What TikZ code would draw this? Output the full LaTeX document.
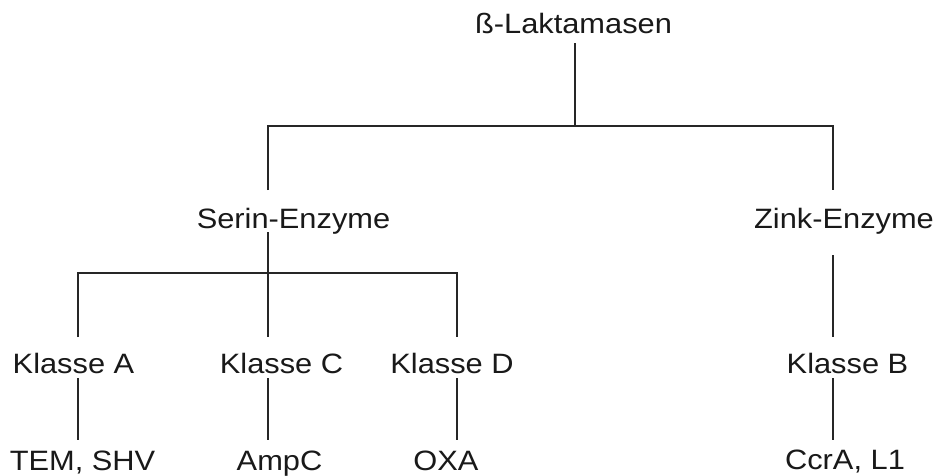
\documentclass[tikz,border=0pt]{standalone}
\usepackage{fontspec}
\setmainfont{Liberation Sans}
\begin{document}
\begin{tikzpicture}[x=1pt,y=-1pt,
  lbl/.style={anchor=base,inner sep=0pt,font=\fontsize{28}{30}\selectfont,text=black!90},
  conn/.style={line width=1.6pt,draw=black!85}]
\useasboundingbox[fill=white] (0,0) rectangle (939,475);
% text nodes
\node[lbl] (root) at (573.5,33) {\scalebox{1.1}[1]{ß-Laktamasen}};
\node[lbl] (serin) at (293.5,228) {\scalebox{1.1}[1]{Serin-Enzyme}};
\node[lbl] (zink) at (844,228) {\scalebox{1.1}[1]{Zink-Enzyme}};
\node[lbl] (ka) at (73.5,373) {\scalebox{1.1}[1]{Klasse A}};
\node[lbl] (kc) at (281.5,373) {\scalebox{1.1}[1]{Klasse C}};
\node[lbl] (kd) at (452,373) {\scalebox{1.1}[1]{Klasse D}};
\node[lbl] (kb) at (847.5,373) {\scalebox{1.1}[1]{Klasse B}};
\node[lbl] (tem) at (82.5,470) {\scalebox{1.1}[1]{TEM, SHV}};
\node[lbl] (ampc) at (279.5,470) {\scalebox{1.1}[1]{AmpC}};
\node[lbl] (oxa) at (446,470) {\scalebox{1.1}[1]{OXA}};
\node[lbl] (ccra) at (845,469.5) {\scalebox{1.1}[1]{CcrA, L1}};
% connector coordinates
\coordinate (r0) at (575,43);
\coordinate (r1) at (575,126);
\coordinate (sTop) at (268,190);
\coordinate (zTop) at (833,190);
\coordinate (s0) at (268,232);
\coordinate (s1) at (268,337);
\coordinate (sh) at (268,273);
\coordinate (aTop) at (78,337);
\coordinate (dTop) at (457,337);
\coordinate (z0) at (833,255);
\coordinate (z1) at (833,337);
\coordinate (a0) at (78,378);   \coordinate (a1) at (78,440);
\coordinate (c0) at (268,378);  \coordinate (c1) at (268,440);
\coordinate (d0) at (457,378);  \coordinate (d1) at (457,440);
\coordinate (b0) at (833,378);  \coordinate (b1) at (833,440);
% connectors
\draw[conn] (r0) -- (r1);
\draw[conn] (sTop) -- (sTop |- r1) -- (zTop |- r1) -- (zTop);
\draw[conn] (s0) -- (s1);
\draw[conn] (aTop) -- (aTop |- sh) -- (dTop |- sh) -- (dTop);
\draw[conn] (z0) -- (z1);
\draw[conn] (a0) -- (a1);
\draw[conn] (c0) -- (c1);
\draw[conn] (d0) -- (d1);
\draw[conn] (b0) -- (b1);
\end{tikzpicture}
\end{document}
